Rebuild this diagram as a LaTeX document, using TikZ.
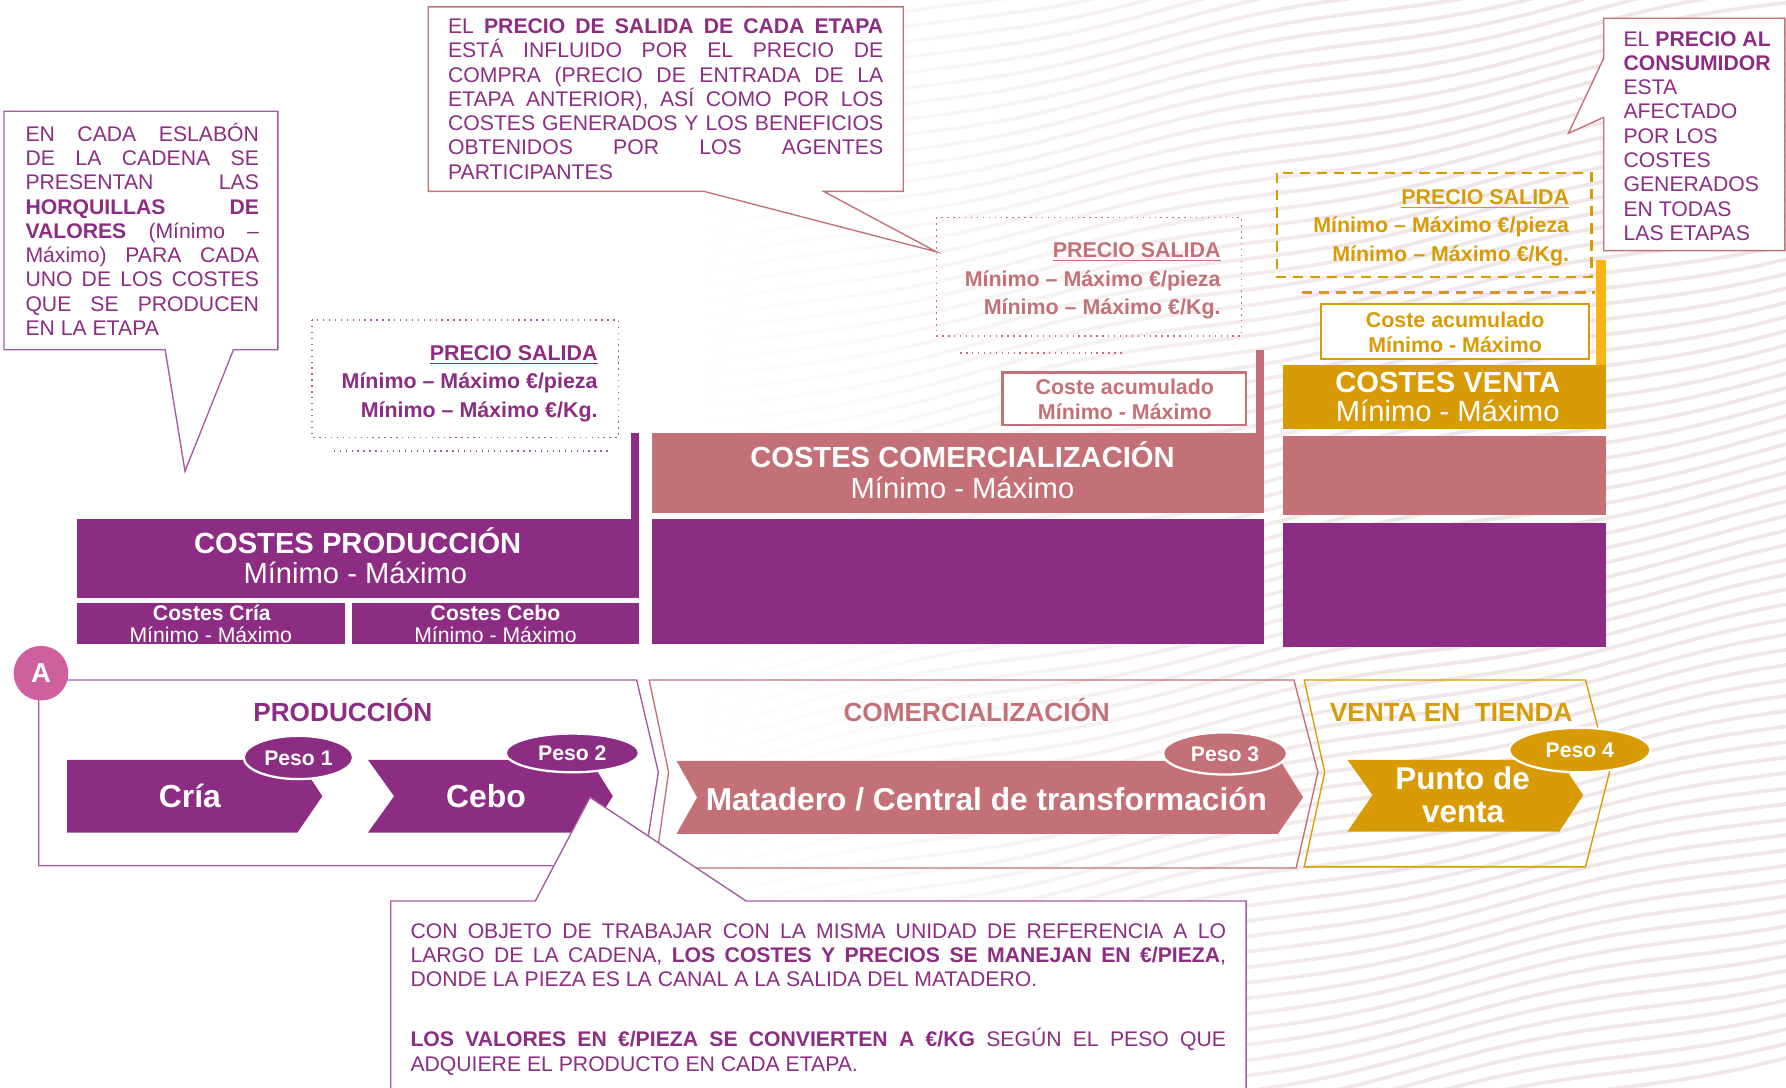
\documentclass[tikz,border=0pt]{standalone}
\usepackage{fontspec}
\setmainfont{Liberation Sans}
\usetikzlibrary{fadings,shapes.geometric}
\definecolor{cpur}{HTML}{8C2D83}
\definecolor{cline}{HTML}{A65BA0}
\definecolor{crose}{HTML}{C37176}
\definecolor{cgold}{HTML}{D99B05}
\definecolor{cyel}{HTML}{FBB414}
\definecolor{cpink}{HTML}{CE60A0}
\definecolor{cwave}{HTML}{F0E5E7}
\newcommand{\tstrut}{\rule{0pt}{10pt}}
\newcommand{\jl}[2]{\makebox[#1][s]{#2}}
\begin{document}
\begin{tikzpicture}[x=0.5pt,y=-0.5pt,
  ctext/.style={inner sep=0pt, anchor=north west, align=left, text=cpur, font=\fontsize{9.3}{10.65}\selectfont},
  ptext/.style={inner sep=0pt, anchor=north east, align=right, font=\bfseries\fontsize{9.4}{12.6}\selectfont},
  atext/.style={inner sep=0pt, anchor=north, align=center, font=\bfseries\fontsize{9.4}{11}\selectfont},
  bartxt/.style={inner sep=0pt, anchor=base, text=white},
  bigb/.style={font=\bfseries\fontsize{12.8}{14}\selectfont},
  bigr/.style={font=\fontsize{12.8}{14}\selectfont},
  smb/.style={font=\bfseries\fontsize{9.3}{10}\selectfont},
  smr/.style={font=\fontsize{9.3}{10}\selectfont},
  stitle/.style={inner sep=0pt, anchor=base, font=\bfseries\fontsize{11.5}{13}\selectfont},
  arrtxt/.style={inner sep=0pt, anchor=base, text=white, font=\bfseries\fontsize{14}{16}\selectfont},
  peso/.style={ellipse, draw=white, line width=1pt, inner sep=0pt, text=white, font=\bfseries\fontsize{9.3}{10}\selectfont, text height=6.66pt, text depth=0pt},
  callout/.style={line width=0.6pt, fill=white},
  frame/.style={line width=0.6pt}
]
\useasboundingbox (0,0) rectangle (1568,955);
\fill[white] (0,0) rectangle (1568,955);

% background ripples
\begin{scope}
\clip (620,0) rectangle (1568,955);
\foreach \k in {-40,...,75}{
  \draw[cwave, line width=1.6pt] plot[domain=620:1568, samples=30, smooth] (\x, {\k*13 + 140 - 0.2*(\x-620) + 5*sin(0.9*\x + 7*\k)});
}
\end{scope}
\fill[white, path fading=east] (619,-2) rectangle (1250,957);

% ===== cost bars =====
\fill[cpur] (68,456) rectangle (561,525);
\fill[cpur] (554,380) rectangle (561,456);
\fill[cpur] (68,529) rectangle (303,565);
\fill[cpur] (309,529) rectangle (561,565);
\fill[cpur] (572,456) rectangle (1110,565);
\fill[crose] (572,380) rectangle (1110,450);
\fill[crose] (1103,307) rectangle (1110,380);
\fill[cpur] (1126,459) rectangle (1410,568);
\fill[crose] (1126,383) rectangle (1410,452);
\fill[cgold] (1126,320) rectangle (1410,377);
\fill[cyel] (1401,228) rectangle (1410,320);

\node[bartxt, bigb] (tprod) at (314,486.2) {COSTES PRODUCCIÓN};
\node[bartxt, bigr] (mprod) at (312,512) {Mínimo - Máximo};
\node[bartxt, smb] (tcria) at (186,544.7) {Costes Cría};
\node[bartxt, smr] (mcria) at (185,563.7) {Mínimo - Máximo};
\node[bartxt, smb] (tcebo) at (435,544.7) {Costes Cebo};
\node[bartxt, smr] (mcebo) at (435,563.7) {Mínimo - Máximo};
\node[bartxt, bigb] (tcom) at (845,410.2) {COSTES COMERCIALIZACIÓN};
\node[bartxt, bigr] (mcom) at (845,437.2) {Mínimo - Máximo};
\node[bartxt, bigb] (tven) at (1271,344.2) {COSTES VENTA};
\node[bartxt, bigr] (mven) at (1271,369.7) {Mínimo - Máximo};

% ===== price boxes =====
\draw[cline, dotted, line width=0.6pt] (274,281) rectangle (543,384);
\draw[cline, dotted, line width=0.6pt] (293,396) -- (537,396);
\node[ptext, text=cpur] (p1) at (525,295.7) {\tstrut\underline{PRECIO SALIDA}\\ Mínimo – Máximo €/pieza\\ Mínimo – Máximo €/Kg.};

\draw[crose, dotted, line width=0.6pt] (822,191) rectangle (1090,295);
\draw[crose, dotted, line width=0.6pt] (843,310) -- (988,310);
\node[ptext, text=crose] (p2) at (1072,205.7) {\tstrut\underline{PRECIO SALIDA}\\ Mínimo – Máximo €/pieza\\ Mínimo – Máximo €/Kg.};

\draw[cgold, line width=1.1pt, dash pattern=on 4.5pt off 3pt] (1121,152) rectangle (1397,243);
\draw[cgold, line width=1.1pt, dash pattern=on 4.5pt off 3pt] (1143,257) -- (1400,257);
\node[ptext, text=cgold] (p3) at (1378,158.7) {\tstrut\underline{PRECIO SALIDA}\\ Mínimo – Máximo €/pieza\\ Mínimo – Máximo €/Kg.};

\draw[crose, line width=1pt, fill=white] (880,327) rectangle (1094,373);
\node[atext, text=crose] (ca1) at (987.5,325.7) {\tstrut Coste acumulado\\ Mínimo - Máximo};
\draw[cgold, line width=1pt, fill=white] (1160,267) rectangle (1395,315);
\node[atext, text=cgold] (ca3) at (1277.5,266.7) {\tstrut Coste acumulado\\ Mínimo - Máximo};

% ===== stage frames =====
\draw[cline, frame] (34,597) -- (559,597) -- (578,678) -- (565,760) -- (34,760) -- cycle;
\draw[crose, frame] (570,597) -- (1136,597) -- (1157,678) -- (1138,762) -- (575,762) -- (587,678) -- cycle;
\draw[cgold, frame] (1145,597) -- (1392,597) -- (1413,678) -- (1392,761) -- (1145,761) -- (1163,678) -- cycle;

\node[circle, fill=cpink, minimum size=24pt, inner sep=0pt, text=white, font=\bfseries\fontsize{12}{12}\selectfont, text height=8.6pt, text depth=0pt] (circA) at (36,591) {A};

\node[stitle, text=cpur] (tprodt) at (301,633.2) {PRODUCCIÓN};
\node[stitle, text=crose] (tcomt) at (857.5,633.2) {COMERCIALIZACIÓN};
\node[stitle, text=cgold] (tvent) at (1274,633.2) {VENTA EN\ \ TIENDA};

% ===== chain arrows =====
\fill[cpur] (59,667) -- (262,667) -- (283,699) -- (261,731) -- (59,731) -- cycle;
\fill[cpur] (323,667) -- (518,667) -- (538,699) -- (518,731) -- (323,731) -- (346,699) -- cycle;
\fill[crose] (594,668) -- (1124,668) -- (1144,700) -- (1122,732) -- (594,732) -- (612,700) -- cycle;
\fill[cgold] (1183,667) -- (1369,667) -- (1390,698) -- (1369,730) -- (1183,730) -- (1205,698) -- cycle;

\node[arrtxt] (lcria) at (166.7,708.6) {Cría};
\node[arrtxt] (lcebo) at (426.6,708.6) {Cebo};
\node[arrtxt, font=\bfseries\fontsize{13.9}{16}\selectfont] (lmat) at (866,711.6) {Matadero / Central de transformación};
\node[arrtxt, font=\bfseries\fontsize{13.8}{16}\selectfont] (lpv1) at (1284,693) {Punto de};
\node[arrtxt, font=\bfseries\fontsize{13.8}{16}\selectfont] (lpv2) at (1284.5,722) {venta};

\node[peso, fill=cpur, minimum width=48pt, minimum height=19pt] (peso1) at (262,665) {Peso 1};
\node[peso, fill=cpur, minimum width=58.5pt, minimum height=17pt] (peso2) at (502.5,661) {Peso 2};
\node[peso, fill=crose, minimum width=54.5pt, minimum height=18.5pt] (peso3) at (1075.5,661.5) {Peso 3};
\node[peso, fill=cgold, minimum width=62pt, minimum height=19.5pt] (peso4) at (1387,658.5) {Peso 4};

% ===== callouts =====
\draw[cline, callout] (3.5,97.7) -- (244,97.7) -- (244,307) -- (205,307) -- (162.4,413.6) -- (145,307) -- (3.5,307) -- cycle;
\node[ctext] (ctl) at (22,103.65) {\tstrut\jl{102.5pt}{EN CADA ESLABÓN}\\
\jl{102.5pt}{DE LA CADENA SE}\\
\jl{102.5pt}{PRESENTAN LAS}\\
\jl{102.5pt}{\textbf{HORQUILLAS DE}}\\
\jl{102.5pt}{\textbf{VALORES} (Mínimo –}\\
\jl{102.5pt}{Máximo) PARA CADA}\\
\jl{102.5pt}{UNO DE LOS COSTES}\\
\jl{102.5pt}{QUE SE PRODUCEN}\\
EN LA ETAPA};

\draw[crose, callout] (376,6) -- (793,6) -- (793,168) -- (723,168) -- (822,221) -- (618,168) -- (376,168) -- cycle;
\node[ctext] (ctm) at (393,9.15) {\tstrut\jl{191pt}{EL \textbf{PRECIO DE SALIDA DE CADA ETAPA}}\\
\jl{191pt}{ESTÁ INFLUIDO POR EL PRECIO DE}\\
\jl{191pt}{COMPRA (PRECIO DE ENTRADA DE LA}\\
\jl{191pt}{ETAPA ANTERIOR), ASÍ COMO POR LOS}\\
\jl{191pt}{COSTES GENERADOS Y LOS BENEFICIOS}\\
\jl{191pt}{OBTENIDOS POR LOS AGENTES}\\
PARTICIPANTES};

\draw[crose, callout] (1408,16) -- (1567,16) -- (1567,220) -- (1408,220) -- (1408,103) -- (1377,117) -- (1408,51) -- cycle;
\node[ctext] (ctr) at (1425,20.15) {\tstrut EL \textbf{PRECIO AL}\\ \textbf{CONSUMIDOR}\\ ESTA\\ AFECTADO\\ POR LOS\\ COSTES\\ GENERADOS\\ EN TODAS\\ LAS ETAPAS};

\draw[cline, callout] (343,791) -- (470,791) -- (518,700) -- (655,791) -- (1094,791) -- (1094,960) -- (343,960) -- cycle;
\node[ctext] (cbt) at (360,803.15) {\tstrut\jl{358pt}{CON OBJETO DE TRABAJAR CON LA MISMA UNIDAD DE REFERENCIA A LO}\\
\jl{358pt}{LARGO DE LA CADENA, \textbf{LOS COSTES Y PRECIOS SE MANEJAN EN €/PIEZA},}\\
DONDE LA PIEZA ES LA CANAL A LA SALIDA DEL MATADERO.\\[15.8pt]
\jl{358pt}{\textbf{LOS VALORES EN €/PIEZA SE CONVIERTEN A €/KG} SEGÚN EL PESO QUE}\\
ADQUIERE EL PRODUCTO EN CADA ETAPA.};
\end{tikzpicture}
\end{document}
